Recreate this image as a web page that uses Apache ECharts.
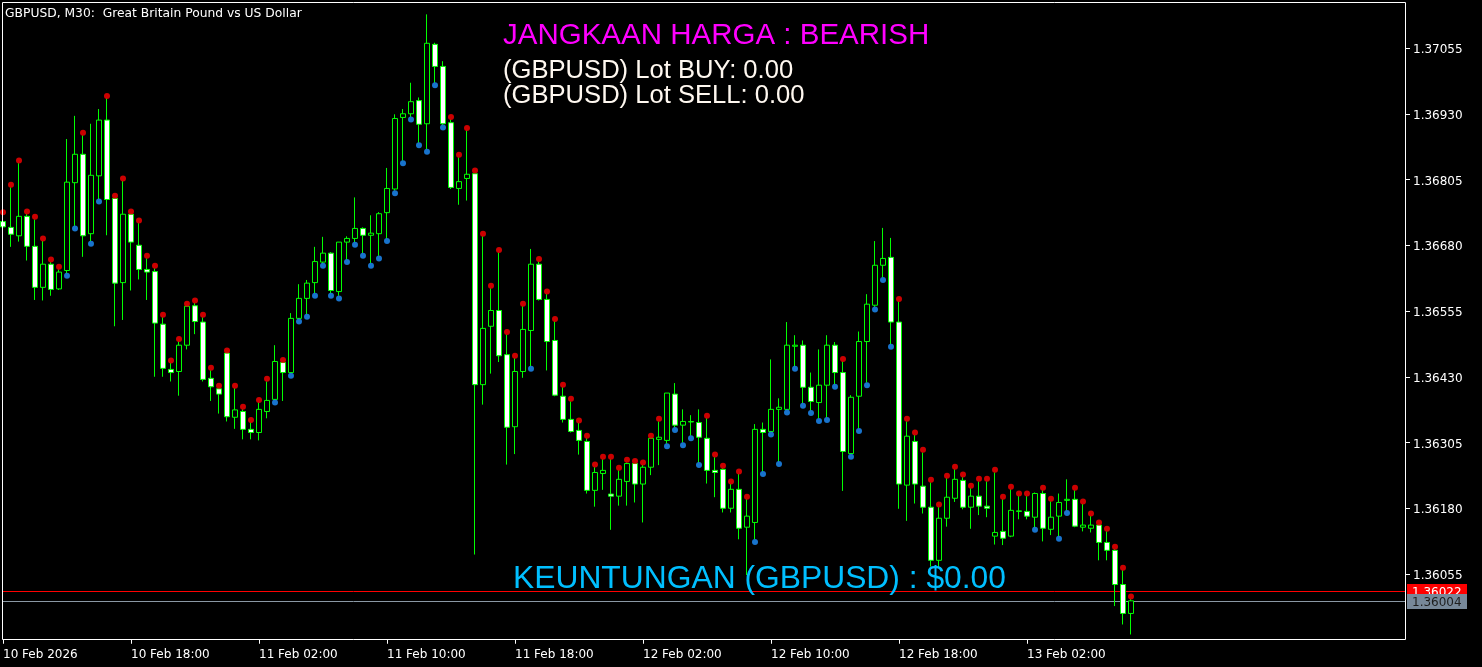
<!DOCTYPE html>
<html>
<head>
<meta charset="utf-8">
<script src="https://cdn.jsdelivr.net/npm/echarts@6/dist/echarts.min.js"></script>
<style>
html,body{margin:0;padding:0;background:#000;}
#c{width:1482px;height:667px;}
</style>
</head>
<body>
<div id="c"></div>
<script>
// ---- data (GBPUSD M30) ----
const opens = [
1.36725,1.36714,1.36698,1.36735,1.36678,1.36600,1.36644,1.36597,1.36632,1.36799,
1.36853,1.36702,1.36812,1.36918,1.36769,1.36609,1.36739,1.36680,1.36634,1.36630,
1.36530,1.36444,1.36440,1.36490,1.36565,1.36534,1.36427,1.36407,1.36475,1.36353,
1.36364,1.36330,1.36324,1.36364,1.36387,1.36457,1.36438,1.36541,1.36579,1.36609,
1.36648,1.36665,1.36592,1.36686,1.36693,1.36712,1.36699,1.36702,1.36742,1.36787,
1.36923,1.36930,1.36955,1.36911,1.37062,1.37020,1.36913,1.36788,1.36807,1.36816,
1.36415,1.36526,1.36556,1.36472,1.36335,1.36440,1.36518,1.36644,1.36577,1.36499,
1.36393,1.36349,1.36328,1.36307,1.36214,1.36246,1.36207,1.36203,1.36231,1.36265,
1.36226,1.36258,1.36311,1.36309,1.36397,1.36338,1.36344,1.36343,1.36313,1.36252,
1.36254,1.36180,1.36216,1.36144,1.36153,1.36330,1.36326,1.36368,1.36368,1.36488,
1.36490,1.36410,1.36381,1.36414,1.36490,1.36438,1.36284,1.36393,1.36497,1.36566,
1.36642,1.36657,1.36534,1.36224,1.36307,1.36222,1.36182,1.36081,1.36161,1.36199,
1.36233,1.36182,1.36203,1.36184,1.36127,1.36136,1.36127,1.36174,1.36174,1.36163,
1.36208,1.36140,1.36165,1.36195,1.36197,1.36144,1.36142,1.36148,1.36115,1.36100,
1.36035,1.35980
];
const closes = [
1.36715,1.36701,1.36735,1.36678,1.36600,1.36644,1.36596,1.36629,1.36800,1.36853,
1.36698,1.36813,1.36918,1.36767,1.36608,1.36739,1.36686,1.36634,1.36629,1.36532,
1.36446,1.36438,1.36490,1.36564,1.36535,1.36425,1.36411,1.36397,1.36354,1.36367,
1.36330,1.36324,1.36368,1.36385,1.36459,1.36438,1.36541,1.36579,1.36608,1.36649,
1.36665,1.36594,1.36686,1.36693,1.36712,1.36699,1.36703,1.36740,1.36788,1.36921,
1.36930,1.36953,1.36910,1.37064,1.37020,1.36911,1.36790,1.36801,1.36815,1.36415,
1.36522,1.36556,1.36470,1.36334,1.36440,1.36520,1.36644,1.36577,1.36497,1.36395,
1.36349,1.36326,1.36309,1.36214,1.36248,1.36252,1.36203,1.36235,1.36265,1.36226,
1.36258,1.36313,1.36315,1.36399,1.36338,1.36345,1.36345,1.36315,1.36252,1.36248,
1.36180,1.36216,1.36142,1.36165,1.36330,1.36324,1.36368,1.36372,1.36490,1.36490,
1.36410,1.36383,1.36414,1.36490,1.36438,1.36288,1.36391,1.36497,1.36568,1.36642,
1.36655,1.36534,1.36226,1.36317,1.36226,1.36182,1.36081,1.36161,1.36201,1.36235,
1.36182,1.36203,1.36184,1.36180,1.36134,1.36123,1.36176,1.36175,1.36165,1.36208,
1.36142,1.36163,1.36191,1.36197,1.36146,1.36148,1.36148,1.36115,1.36100,1.36035,
1.35980,1.36004
];
const highs = [
1.36738,1.36790,1.36836,1.36739,1.36729,1.36688,1.36648,1.36634,1.36882,1.36926,
1.36889,1.36911,1.36939,1.36959,1.36769,1.36802,1.36739,1.36722,1.36655,1.36636,
1.36543,1.36456,1.36497,1.36564,1.36570,1.36543,1.36442,1.36408,1.36475,1.36408,
1.36368,1.36343,1.36381,1.36421,1.36490,1.36457,1.36551,1.36606,1.36614,1.36677,
1.36696,1.36667,1.36686,1.36697,1.36771,1.36714,1.36737,1.36743,1.36827,1.36929,
1.36939,1.36989,1.36961,1.37119,1.37065,1.37030,1.36919,1.36847,1.36898,1.36817,
1.36697,1.36598,1.36666,1.36510,1.36465,1.36564,1.36673,1.36649,1.36587,1.36535,
1.36410,1.36383,1.36342,1.36313,1.36258,1.36273,1.36273,1.36252,1.36267,1.36265,
1.36262,1.36313,1.36345,1.36399,1.36418,1.36368,1.36357,1.36368,1.36351,1.36277,
1.36256,1.36226,1.36245,1.36197,1.36340,1.36343,1.36463,1.36389,1.36534,1.36509,
1.36499,1.36438,1.36482,1.36509,1.36496,1.36459,1.36395,1.36516,1.36587,1.36688,
1.36713,1.36694,1.36573,1.36345,1.36319,1.36286,1.36229,1.36182,1.36237,1.36254,
1.36239,1.36218,1.36231,1.36231,1.36248,1.36197,1.36216,1.36203,1.36203,1.36210,
1.36214,1.36193,1.36208,1.36235,1.36214,1.36188,1.36165,1.36148,1.36136,1.36102,
1.36062,1.36007
];
const lows = [
1.36709,1.36677,1.36687,1.36651,1.36576,1.36575,1.36584,1.36595,1.36627,1.36717,
1.36658,1.36688,1.36768,1.36699,1.36526,1.36538,1.36594,1.36615,1.36576,1.36430,
1.36430,1.36421,1.36394,1.36482,1.36511,1.36421,1.36384,1.36360,1.36345,1.36331,
1.36311,1.36311,1.36309,1.36351,1.36386,1.36384,1.36437,1.36540,1.36549,1.36589,
1.36646,1.36589,1.36584,1.36653,1.36686,1.36665,1.36646,1.36660,1.36693,1.36784,
1.36841,1.36924,1.36875,1.36863,1.36989,1.36909,1.36787,1.36757,1.36765,1.36092,
1.36377,1.36436,1.36458,1.36263,1.36283,1.36428,1.36450,1.36575,1.36442,1.36393,
1.36343,1.36324,1.36282,1.36208,1.36183,1.36215,1.36139,1.36185,1.36185,1.36191,
1.36153,1.36243,1.36262,1.36303,1.36334,1.36305,1.36318,1.36267,1.36227,1.36201,
1.36172,1.36172,1.36121,1.36053,1.36121,1.36250,1.36325,1.36269,1.36367,1.36450,
1.36380,1.36366,1.36351,1.36353,1.36416,1.36213,1.36283,1.36332,1.36419,1.36563,
1.36619,1.36492,1.36179,1.36156,1.36189,1.36170,1.36069,1.36066,1.36145,1.36192,
1.36178,1.36141,1.36167,1.36163,1.36111,1.36110,1.36125,1.36159,1.36159,1.36144,
1.36117,1.36129,1.36127,1.36176,1.36144,1.36136,1.36134,1.36081,1.36081,1.35994,
1.35959,1.35940
];
// trend dots: r = red dot above the high, b = blue dot below the low
const signals = ("rrrrrrrr" + "bbrbb" + "rrrrrrrrrrrrrrrrrrrrr" + "br" +
  "bbbbbbbbbbbbbbbbbbbb" + "rrrrrrrrrr" + "b" + "rrrrrrrrrrrrrrrr" + "bbbbb" +
  "rrrrrr" + "bbbbbbbbbbb" + "r" + "bbbbbb" + "rrrrrrrrrrrrrrrrr" + "b" + "rr" +
  "bb" + "rrrrrrrr").split('');
const tickLabels = [
  [0,'10 Feb 2026'],[16,'10 Feb 18:00'],[32,'11 Feb 02:00'],[48,'11 Feb 10:00'],
  [64,'11 Feb 18:00'],[80,'12 Feb 02:00'],[96,'12 Feb 10:00'],[112,'12 Feb 18:00'],
  [128,'13 Feb 02:00']
];
const askPrice = 1.36022;
const bidPrice = 1.36004;
const yMin = 1.35930, yMax = 1.371425, yStep = 0.00125;
const slotCount = 176;            // visible bar slots (incl. empty right margin)
const dotOffset = 0.00005;

// ---- build ----
const categories = [];
{
  const start = Date.UTC(2026, 1, 10, 10, 0);
  const mon = ['Jan','Feb','Mar','Apr','May','Jun','Jul','Aug','Sep','Oct','Nov','Dec'];
  for (let i = 0; i < slotCount; i++) {
    const d = new Date(start + i * 1800000);
    const hh = String(d.getUTCHours()).padStart(2,'0'), mm = String(d.getUTCMinutes()).padStart(2,'0');
    categories.push(d.getUTCDate() + ' ' + mon[d.getUTCMonth()] + ' ' + hh + ':' + mm);
  }
}
const labelMap = {};
tickLabels.forEach(t => labelMap[t[0]] = t[1]);
const candleData = opens.map((o, i) => [o, closes[i], lows[i], highs[i]]);
const redDots = [], blueDots = [];
signals.forEach((s, i) => {
  if (i >= opens.length) return;
  if (s === 'r') redDots.push([i, highs[i] + dotOffset]);
  else blueDots.push([i, lows[i] - dotOffset]);
});

const chart = echarts.init(document.getElementById('c'), null, {renderer: 'canvas'});
const tickFn = (idx) => labelMap[idx] !== undefined;
const option = {
  backgroundColor: '#000',
  animation: false,
  grid: {left: 3, top: 2, width: 8 * (slotCount - 1), height: 637.75, containLabel: false},
  xAxis: {
    type: 'category', data: categories, boundaryGap: false,
    axisLine: {show: false},
    axisTick: {show: true, interval: tickFn, length: 4, lineStyle: {color: '#ffffff'}},
    axisLabel: {
      show: true, interval: tickFn, formatter: (v, idx) => labelMap[idx] || '',
      align: 'left', color: '#ffffff', fontFamily: 'DejaVu Sans', fontSize: 12, margin: 9
    },
    splitLine: {show: false}
  },
  yAxis: {
    type: 'value', position: 'right', offset: 2,
    min: yMin, max: yMax, interval: yStep,
    axisLine: {show: false},
    axisTick: {show: true, length: 5, lineStyle: {color: '#ffffff'}},
    axisLabel: {
      color: '#ffffff', fontFamily: 'DejaVu Sans', fontSize: 12, margin: 8,
      showMinLabel: false, showMaxLabel: false,
      formatter: v => '{v|' + v.toFixed(5) + '}',
      rich: {v: {color: '#ffffff', fontFamily: 'DejaVu Sans', fontSize: 12, padding: [4, 0, 0, 0]}}
    },
    splitLine: {show: false}
  },
  series: [
    {
      type: 'candlestick', data: candleData, barWidth: 5, z: 3,
      itemStyle: {
        color: '#000000', color0: '#ffffff',
        borderColor: '#00ff00', borderColor0: '#00ff00', borderColorDoji: '#00ff00',
        borderWidth: 1
      }
    },
    {type: 'scatter', data: redDots, symbol: 'circle', symbolSize: 6,
     itemStyle: {color: '#ff0000'}, z: 5, silent: true},
    {type: 'scatter', data: blueDots, symbol: 'circle', symbolSize: 6,
     itemStyle: {color: '#1e90ff'}, z: 5, silent: true}
  ]
};
chart.setOption(option);

const yAsk = Math.round(chart.convertToPixel({yAxisIndex: 0}, askPrice));
const yBid = Math.round(chart.convertToPixel({yAxisIndex: 0}, bidPrice));
const txt = (x, y, text, fill, font, z) => ({
  type: 'text', x: x, y: y, z: z || 100, silent: true,
  style: {text: text, fill: fill, font: font, textAlign: 'left', textVerticalAlign: 'middle', align: 'left', verticalAlign: 'middle'}
});
chart.setOption({
  graphic: [
    {type: 'line', z: 1, silent: true, shape: {x1: 3, y1: yAsk + 0.5, x2: 1405, y2: yAsk + 0.5},
     style: {stroke: '#ff0000', lineWidth: 1}},
    {type: 'line', z: 1, silent: true, shape: {x1: 3, y1: yBid + 0.5, x2: 1405, y2: yBid + 0.5},
     style: {stroke: '#8a98a4', lineWidth: 1}},
    {type: 'rect', z: 90, silent: true, shape: {x: 2.5, y: 2.5, width: 1403, height: 637},
     style: {fill: 'transparent', stroke: '#ffffff', lineWidth: 1}},
    txt(5, 13.5, 'GBPUSD, M30:  Great Britain Pound vs US Dollar', '#ffffff', '12.3px "DejaVu Sans"'),
    txt(503, 36, 'JANGKAAN HARGA : BEARISH', '#ff00ff', '29.5px "Liberation Sans", Arial'),
    txt(503, 71, '(GBPUSD) Lot BUY: 0.00', '#fff8f0', '25.6px "Liberation Sans", Arial'),
    txt(503, 96, '(GBPUSD) Lot SELL: 0.00', '#fff8f0', '25.6px "Liberation Sans", Arial'),
    txt(513, 579.5, 'KEUNTUNGAN (GBPUSD) : $0.00', '#00bfff', '31.8px "Liberation Sans", Arial'),
    {type: 'rect', z: 110, silent: true, shape: {x: 1407, y: yAsk - 7, width: 60, height: 15},
     style: {fill: '#ff0000'}},
    txt(1412, yAsk + 1.5, askPrice.toFixed(5), '#ffffff', '12px "DejaVu Sans"', 111),
    {type: 'rect', z: 112, silent: true, shape: {x: 1407, y: yBid - 7, width: 60, height: 15},
     style: {fill: '#778899'}},
    txt(1412, yBid + 1.5, bidPrice.toFixed(5), '#1e1e1e', '12px "DejaVu Sans"', 113)
  ]
});
</script>
</body>
</html>
